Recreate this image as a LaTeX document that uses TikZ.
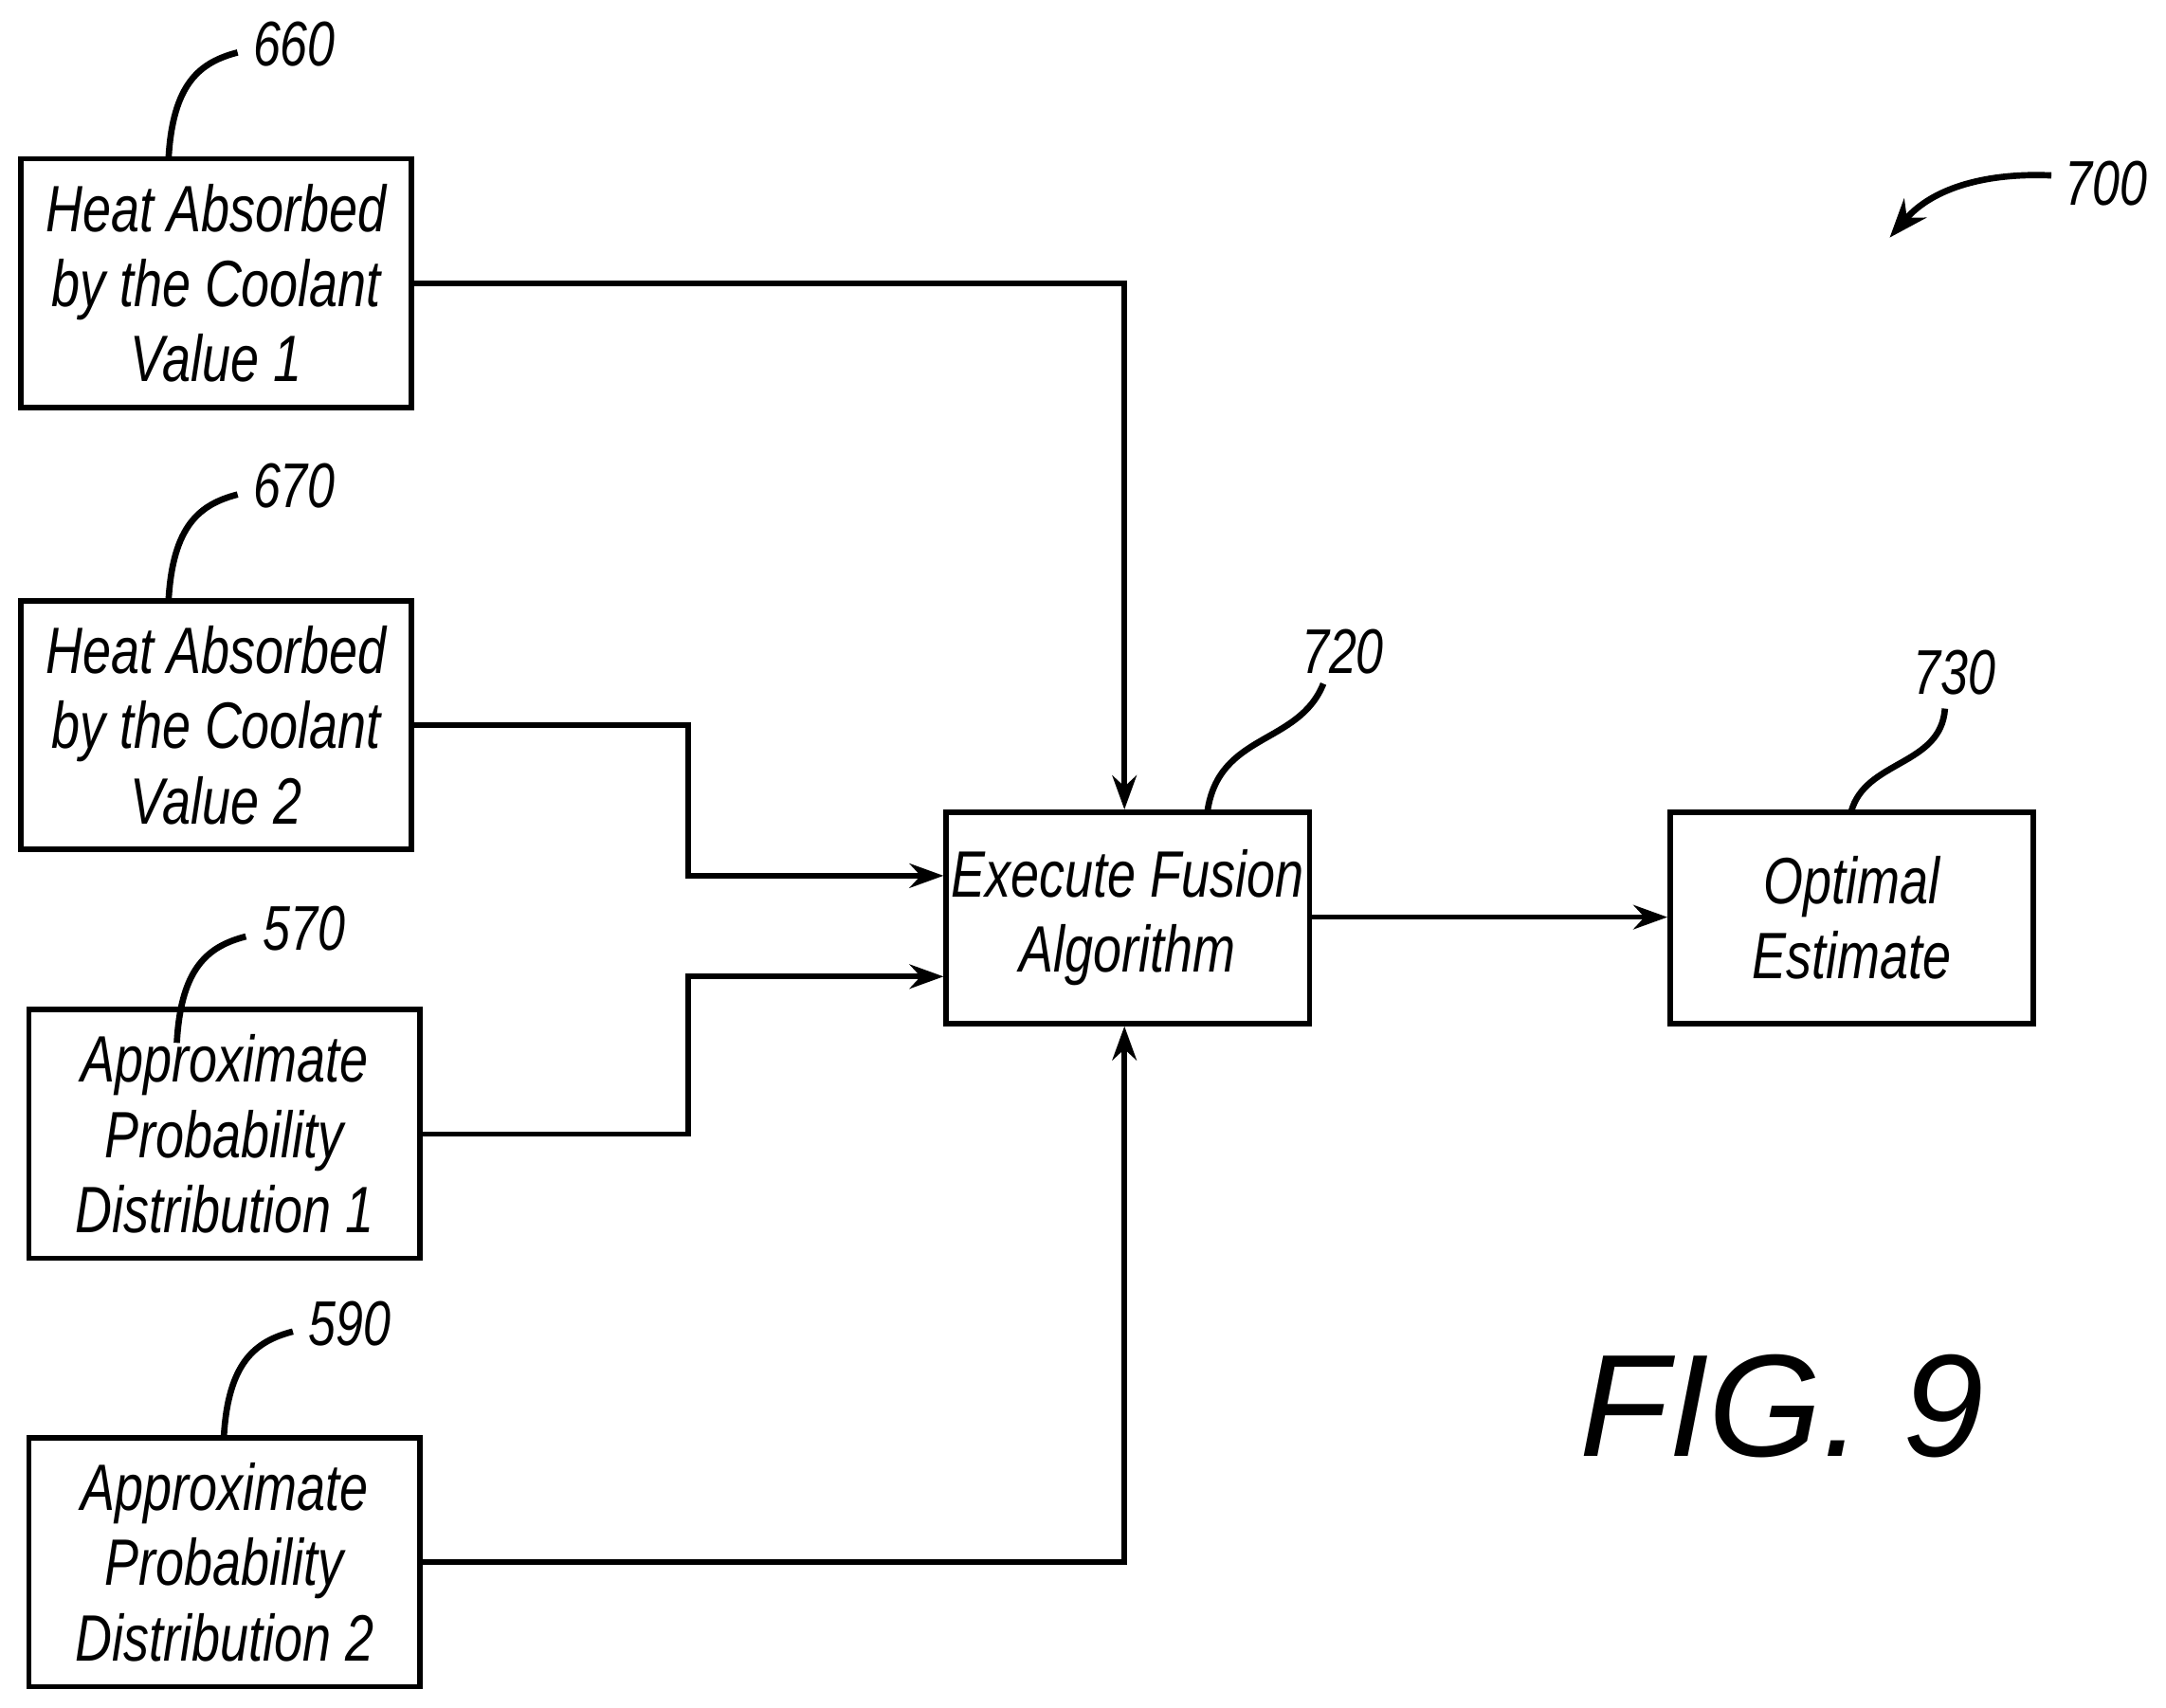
\documentclass[tikz,border=0pt]{standalone}
\usepackage{fontspec}
\setmainfont{Liberation Sans}
\newfontfamily\narrowf[FakeStretch=0.78]{Liberation Sans}
\usetikzlibrary{arrows.meta}
\begin{document}
\begin{tikzpicture}[x=0.01cm,y=-0.01cm,
  box/.style={draw,line width=1.1pt,minimum width=283\pgflinewidth,inner sep=0pt,align=center,font=\narrowf\itshape\fontsize{13.5}{15.5}\selectfont},
  lbl/.style={font=\narrowf\itshape\fontsize{13}{15}\selectfont,inner sep=1pt},
  conn/.style={line width=1.1pt,-{Stealth[length=7pt,width=5pt]}},
  lead/.style={line width=1.3pt}]
\useasboundingbox (0,0) rectangle (1568,1236);
\node[box,minimum width=283*0.01cm,minimum height=180*0.01cm] (b1) at (156.5,205) {Heat Absorbed\\by the Coolant\\Value 1};
\node[box,minimum width=283*0.01cm,minimum height=180*0.01cm] (b2) at (156.5,525) {Heat Absorbed\\by the Coolant\\Value 2};
\node[box,minimum width=283*0.01cm,minimum height=180*0.01cm] (b3) at (162.5,821) {Approximate\\Probability\\Distribution 1};
\node[box,minimum width=283*0.01cm,minimum height=180*0.01cm] (b4) at (162.5,1131) {Approximate\\Probability\\Distribution 2};
\node[box,minimum width=263*0.01cm,minimum height=153*0.01cm] (f) at (816.5,664.5) {Execute Fusion\\Algorithm};
\node[box,minimum width=263*0.01cm,minimum height=153*0.01cm] (o) at (1340.5,664.5) {Optimal\\Estimate};
\coordinate (j1) at (814,205);
\coordinate (j2a) at (498,525); \coordinate (j2b) at (498,634);
\coordinate (j3a) at (498,821); \coordinate (j3b) at (498,707);
\coordinate (j4) at (814,1131);
\draw[conn] (b1.east |- j1) -- (j1) -- (j1 |- f.north);
\draw[conn] (b2.east |- j2a) -- (j2a) -- (j2b) -- (j2b -| f.west);
\draw[conn] (b3.east |- j3a) -- (j3a) -- (j3b) -- (j3b -| f.west);
\draw[conn] (b4.east |- j4) -- (j4) -- (j4 |- f.south);
\draw[conn] (f.east |- 0,664) -- (o.west |- 0,664);
\node[lbl] (l660) at (213,32) {660};
\node[lbl] (l670) at (213,352) {670};
\node[lbl] (l570) at (220,672) {570};
\node[lbl] (l590) at (253,958) {590};
\node[lbl] (l720) at (972,472) {720};
\node[lbl] (l730) at (1415,487) {730};
\node[lbl] (l700) at (1525,133) {700};
\node[font=\fontsize{30}{34}\selectfont\itshape] (fig) at (1290,1018) {FIG. 9};
\draw[lead] (122,115) .. controls (125,60) and (145,45) .. (172,38);
\draw[lead] (122,435) .. controls (125,380) and (145,365) .. (172,358);
\draw[lead] (128,755) .. controls (131,700) and (151,685) .. (178,678);
\draw[lead] (162,1041) .. controls (165,986) and (185,971) .. (212,964);
\draw[lead] (874,588) .. controls (882,530) and (940,540) .. (958,495);
\draw[lead] (1340,588) .. controls (1350,550) and (1405,555) .. (1408,513);
\draw[lead,-{Stealth[length=8pt,width=6pt]}] (1485,127) .. controls (1440,125) and (1400,135) .. (1368,172);
\end{tikzpicture}
\end{document}
